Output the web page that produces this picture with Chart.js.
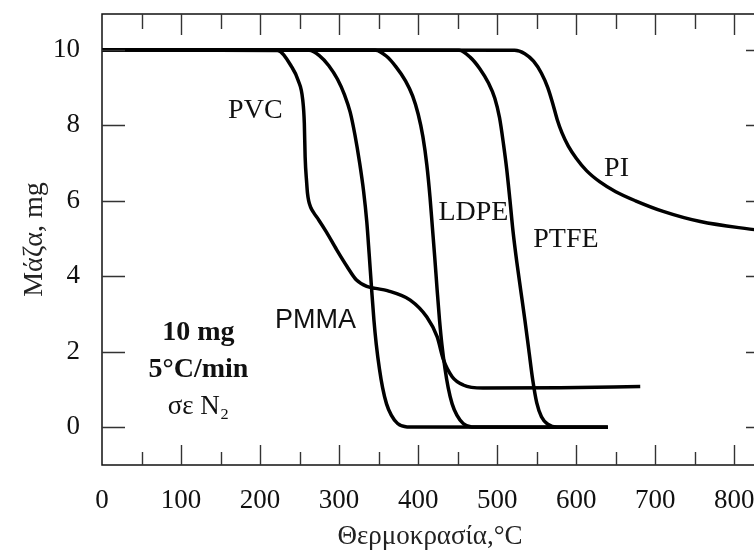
<!DOCTYPE html>
<html>
<head>
<meta charset="utf-8">
<script src="https://cdn.jsdelivr.net/npm/chart.js@4/dist/chart.umd.min.js"></script>
<style>
  html, body { margin: 0; padding: 0; background: #fff; overflow: hidden; }
</style>
</head>
<body>
<canvas id="chart" width="760" height="550"></canvas>
<script>
// temperature (°C) / mass (mg)
const pvcT  = [0, 222, 240, 248, 254, 256, 257, 259, 260, 261.5, 264, 268, 274, 284, 297, 310, 322, 335, 346, 361, 390, 411, 424, 432, 443, 457, 482, 580, 681];
const pvcM  = [10, 9.98, 9.55, 9.2, 8.67, 8.05, 7.17, 6.47, 6.2, 6.0, 5.83, 5.68, 5.5, 5.17, 4.7, 4.26, 3.9, 3.73, 3.68, 3.62, 3.37, 2.92, 2.4, 1.79, 1.34, 1.12, 1.04, 1.05, 1.08];
const pmmaT = [0, 262, 275, 287, 298, 307, 314, 320, 326, 331, 335, 338, 341, 344, 347, 351, 355, 360, 366, 374, 386, 640];
const pmmaM = [10, 9.99, 9.85, 9.58, 9.22, 8.8, 8.35, 7.75, 7.0, 6.25, 5.45, 4.6, 3.7, 2.85, 2.2, 1.55, 1.05, 0.62, 0.32, 0.1, 0.01, 0];
const ldpeT = [0, 346, 360, 372, 384, 393, 400, 406, 411, 415, 418, 421, 424, 427, 430, 434, 438, 443, 449, 457, 468, 640];
const ldpeM = [10, 9.99, 9.83, 9.55, 9.18, 8.78, 8.3, 7.7, 6.95, 6.1, 5.3, 4.5, 3.65, 2.85, 2.2, 1.55, 1.05, 0.62, 0.32, 0.1, 0.01, 0];
const ptfeT = [0, 452, 466, 478, 489, 497, 503, 508, 512, 516, 520, 525, 530, 535, 540, 545, 550, 556, 564, 576, 640];
const ptfeM = [10, 9.99, 9.8, 9.5, 9.12, 8.72, 8.2, 7.5, 6.85, 6.05, 5.2, 4.35, 3.6, 2.85, 2.05, 1.25, 0.65, 0.28, 0.08, 0, 0];
const piT   = [0, 522, 535, 546, 556, 564, 570, 576, 582, 590, 600, 613, 630, 650, 675, 710, 757, 830];
const piM   = [10, 9.99, 9.9, 9.7, 9.38, 9.0, 8.6, 8.15, 7.8, 7.45, 7.13, 6.8, 6.5, 6.24, 6.0, 5.72, 5.45, 5.22];

const xTicks = [0, 100, 200, 300, 400, 500, 600, 700, 800];
const yTicks = [0, 2, 4, 6, 8, 10];

const serif = "'Liberation Serif', 'Times New Roman', serif";
const sans = "'Liberation Sans', Arial, sans-serif";

// text placed inside the plot, in data coordinates
const notes = [
  { text: 'PVC', x: 194, y: 8.38, font: '28px ' + serif },
  { text: 'PMMA', x: 270, y: 2.83, font: '27px ' + sans },
  { text: 'LDPE', x: 470, y: 5.68, font: '28px ' + serif },
  { text: 'PTFE', x: 587, y: 4.96, font: '28px ' + serif },
  { text: 'PI', x: 651, y: 6.85, font: '28px ' + serif },
  { text: '10 mg', x: 122, y: 2.5, font: 'bold 28px ' + serif },
  { text: '5°C/min', x: 122, y: 1.52, font: 'bold 28px ' + serif },
  { text: 'σε N₂', x: 122, y: 0.54, font: '27px ' + serif }
];

function toPoints(xs, ys) {
  return xs.map((x, i) => ({ x: x, y: ys[i] }));
}

function series(xs, ys) {
  return {
    data: toPoints(xs, ys),
    borderColor: '#000',
    borderWidth: 3.5,
    pointRadius: 0,
    fill: false,
    cubicInterpolationMode: 'monotone'
  };
}

const framePlugin = {
  id: 'frame',
  afterDraw(chart) {
    const ctx = chart.ctx;
    const a = chart.chartArea;
    const xs = chart.scales.x;
    const ys = chart.scales.y;
    ctx.save();
    ctx.strokeStyle = '#111';
    ctx.lineWidth = 1.5;
    ctx.strokeRect(a.left, a.top, a.right - a.left, a.bottom - a.top);
    ctx.strokeStyle = '#333';
    ctx.lineWidth = 1.4;
    ctx.beginPath();
    for (let v = 50; v < 830; v += 50) {
      const px = Math.round(xs.getPixelForValue(v)) + 0.5;
      const major = v % 100 === 0;
      ctx.moveTo(px, a.bottom);
      ctx.lineTo(px, a.bottom - (major ? 20 : 13));
      ctx.moveTo(px, a.top);
      ctx.lineTo(px, a.top + (major ? 21 : 15));
    }
    yTicks.forEach(v => {
      const py = Math.round(ys.getPixelForValue(v)) + 0.5;
      ctx.moveTo(a.left, py);
      ctx.lineTo(a.left + 23, py);
      ctx.moveTo(a.right, py);
      ctx.lineTo(a.right - 12, py);
    });
    ctx.stroke();

    ctx.fillStyle = '#111';
    ctx.textAlign = 'center';
    ctx.textBaseline = 'middle';
    notes.forEach(n => {
      ctx.font = n.font;
      ctx.fillText(n.text, xs.getPixelForValue(n.x), ys.getPixelForValue(n.y));
    });
    ctx.restore();
  }
};

new Chart(document.getElementById('chart'), {
  type: 'line',
  data: {
    datasets: [
      series(pvcT, pvcM),
      series(pmmaT, pmmaM),
      series(ldpeT, ldpeM),
      series(ptfeT, ptfeM),
      series(piT, piM)
    ]
  },
  options: {
    responsive: false,
    animation: false,
    layout: { padding: { top: 14, right: 2, left: 0, bottom: 0 } },
    plugins: { legend: { display: false }, tooltip: { enabled: false } },
    scales: {
      x: {
        type: 'linear',
        min: 0,
        max: 830,
        afterBuildTicks: s => { s.ticks = xTicks.map(v => ({ value: v })); },
        afterFit: s => { s.height = 85; s.paddingLeft = 0; s.paddingRight = 0; },
        grid: { display: false },
        border: { display: false },
        ticks: { color: '#111', padding: 12, maxRotation: 0, font: { family: serif, size: 27 } },
        title: {
          display: true,
          text: 'Θερμοκρασία,°C',
          color: '#222',
          padding: { top: 0, bottom: 0 },
          font: { family: serif, size: 27, lineHeight: 0.95 }
        }
      },
      y: {
        min: -1,
        max: 10.95,
        afterBuildTicks: s => { s.ticks = yTicks.map(v => ({ value: v })); },
        afterFit: s => { s.width = 102; s.paddingTop = 0; s.paddingBottom = 0; },
        grid: { display: false },
        border: { display: false },
        ticks: { color: '#111', padding: 14, font: { family: serif, size: 27 } },
        title: {
          display: true,
          text: 'Μάζα, mg',
          color: '#222',
          padding: { top: 18, bottom: 0 },
          font: { family: serif, size: 28 }
        }
      }
    }
  },
  plugins: [framePlugin]
});
</script>
</body>
</html>
